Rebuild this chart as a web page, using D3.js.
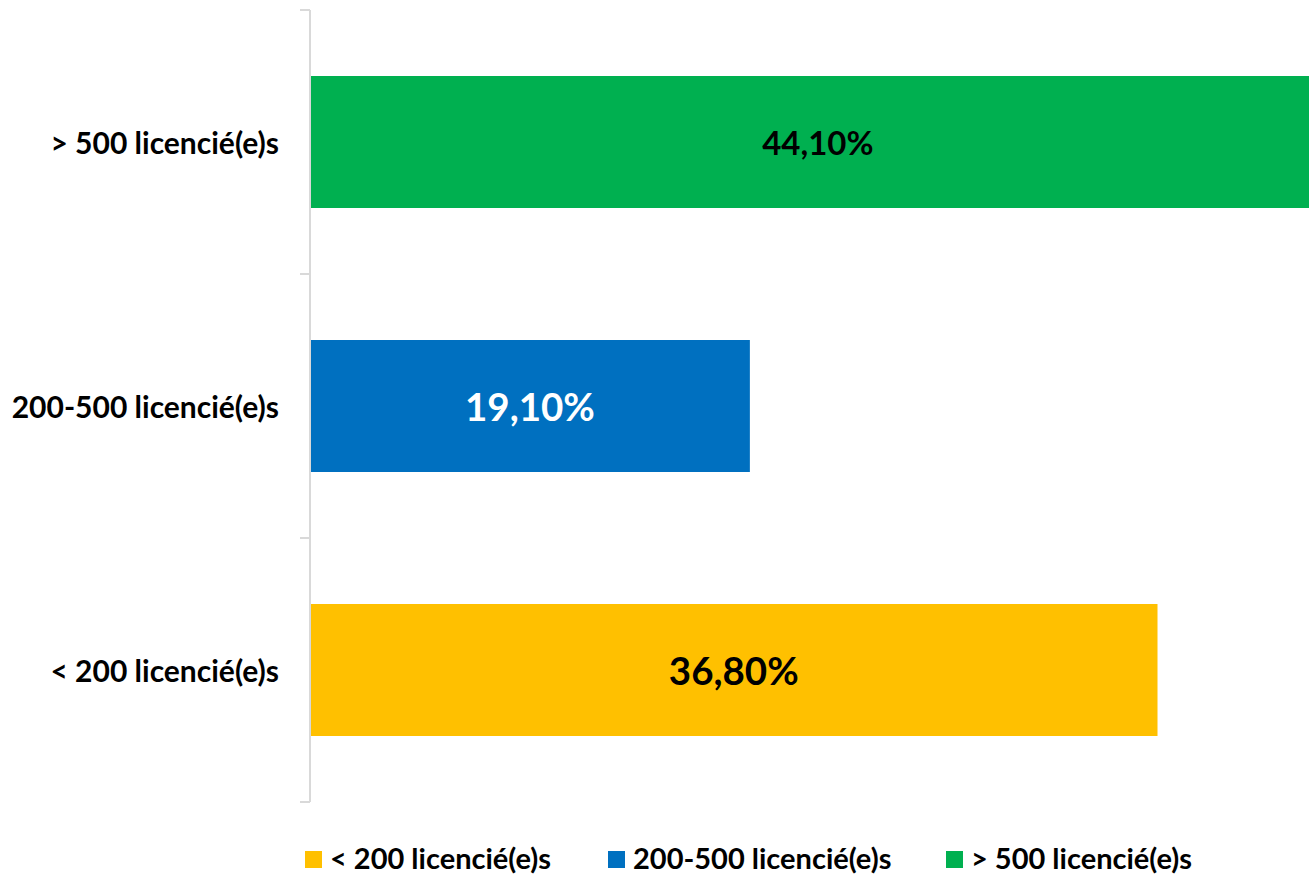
<!DOCTYPE html>
<html><head><meta charset="utf-8">
<script src="https://cdn.jsdelivr.net/npm/d3@7"></script>
<style>body{margin:0;background:#fff}svg{display:block}</style>
</head><body>
<script>
const categories = ["> 500 licencié(e)s", "200-500 licencié(e)s", "< 200 licencié(e)s"];
const values = [44.1, 19.1, 36.8];
const valueLabels = ["44,10%", "19,10%", "36,80%"];
const legendOrder = ["< 200 licencié(e)s", "200-500 licencié(e)s", "> 500 licencié(e)s"];

const colors = {"> 500 licencié(e)s": "#00B050", "200-500 licencié(e)s": "#0070C0", "< 200 licencié(e)s": "#FFC000"};
const labelColors = {"> 500 licencié(e)s": "#000", "200-500 licencié(e)s": "#fff", "< 200 licencié(e)s": "#000"};
const labelSizes = {"> 500 licencié(e)s": 33, "200-500 licencié(e)s": 38.5, "< 200 licencié(e)s": 38.5};

const W = 1309, H = 876;
const FONT = "Lato, 'Open Sans', sans-serif";
const svg = d3.select("body").append("svg").attr("width", W).attr("height", H);

const x = d3.scaleLinear().domain([0, 50]).range([310, 310 + 1151.5]);
const y = d3.scaleBand().domain(categories).range([10, 802]).paddingInner(0.5).paddingOuter(0.25);

// bars
svg.append("g").selectAll("rect").data(categories).join("rect")
  .attr("x", x(0)).attr("y", d => y(d))
  .attr("width", (d, i) => x(values[i]) - x(0))
  .attr("height", y.bandwidth())
  .attr("fill", d => colors[d]);

// axis line and ticks
const ax = svg.append("g").attr("stroke", "#d9d9d9").attr("stroke-width", 2);
ax.append("line").attr("x1", x(0)).attr("x2", x(0)).attr("y1", 10).attr("y2", 802);
d3.range(categories.length + 1).forEach(i => {
  const yy = 10 + i * y.step();
  ax.append("line").attr("x1", x(0) - 10).attr("x2", x(0)).attr("y1", yy).attr("y2", yy);
});

// category labels
svg.append("g").selectAll("text").data(categories).join("text")
  .attr("x", 279).attr("y", d => y(d) + y.bandwidth() / 2)
  .attr("text-anchor", "end").attr("dominant-baseline", "central")
  .attr("font-family", FONT).attr("font-weight", "bold").attr("font-size", 30)
  .attr("fill", "#000").text(d => d);

// value labels
svg.append("g").selectAll("text").data(categories).join("text")
  .attr("x", (d, i) => (x(0) + x(values[i])) / 2)
  .attr("y", d => y(d) + y.bandwidth() / 2)
  .attr("text-anchor", "middle").attr("dominant-baseline", "central")
  .attr("font-family", FONT).attr("font-weight", "bold")
  .attr("font-size", d => labelSizes[d])
  .attr("fill", d => labelColors[d]).text((d, i) => valueLabels[i]);

// legend
const legX = [305, 608, 946];
const lg = svg.append("g");
legendOrder.forEach((d, i) => {
  lg.append("rect").attr("x", legX[i]).attr("y", 851).attr("width", 17).attr("height", 17).attr("fill", colors[d]);
  lg.append("text").attr("x", legX[i] + 25).attr("y", 857)
    .attr("dominant-baseline", "central")
    .attr("font-family", FONT).attr("font-weight", "bold").attr("font-size", 29)
    .attr("fill", "#000").text(d);
});
</script>
</body></html>
